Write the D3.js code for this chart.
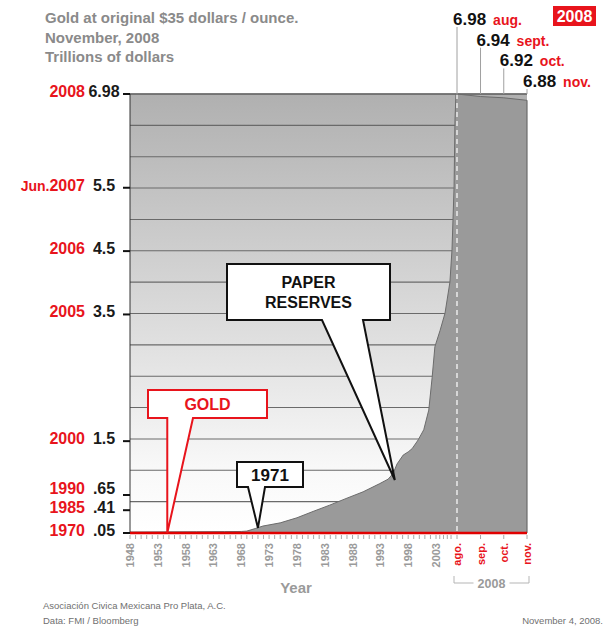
<!DOCTYPE html>
<html><head><meta charset="utf-8">
<script src="https://cdn.jsdelivr.net/npm/d3@7"></script>
<style>
body{margin:0;background:#fff}
svg{display:block;font-family:Arial,"Liberation Sans",sans-serif}
</style>
</head><body>
<svg id="c" width="605" height="629"></svg>
<script>
// ---------- data ----------
const years    = [1948, 1955, 1960, 1965, 1968, 1969, 1970.5, 1971.9, 1975, 1978, 1980.9, 1983.9, 1987, 1989.9, 1992.9, 1994.4, 1995.3, 1996, 1997.1, 1998, 1998.7, 1999.8, 2000.8, 2001.7, 2002.3, 2002.8, 2004.1, 2005.4, 2006.7, 2007.25, 2007.8, 2008.05, 2008.3];
const reserves = [0.066, 0.068, 0.07, 0.072, 0.074, 0.08, 0.12, 0.16, 0.21, 0.29, 0.39, 0.49, 0.60, 0.70, 0.83, 0.90, 0.99, 1.14, 1.28, 1.33, 1.38, 1.52, 1.68, 1.99, 2.50, 2.99, 3.25, 3.52, 4.01, 4.52, 5.50, 6.57, 6.98];
const monthDates  = [2008.583, 2008.667, 2008.75, 2008.833];
const monthValues = [6.98, 6.94, 6.92, 6.88];
const monthAxisLabels = ["ago.", "sep.", "oct.", "nov."];
const monthTopLabels  = ["aug.", "sept.", "oct.", "nov."];
const goldDates  = [1948, 2008.833];
const goldValues = [0.05, 0.05];
const yTickValues = [6.98, 5.5, 4.5, 3.5, 1.5, 0.65, 0.41, 0.05];
const yTickValueLabels = ["6.98", "5.5", "4.5", "3.5", "1.5", ".65", ".41", ".05"];
const yTickYearLabels  = ["2008", "Jun.2007", "2006", "2005", "2000", "1990", "1985", "1970"];
const yearTickLabels = [1948, 1953, 1958, 1963, 1968, 1973, 1978, 1983, 1988, 1993, 1998, 2003];
const titleLines = ["Gold at original $35 dollars / ounce.", "November, 2008", "Trillions of dollars"];
const callouts = [
  {text: ["GOLD"], year: 1954.7, value: 0.05, color: "#e8141c"},
  {text: ["1971"], year: 1971, value: 0.13, color: "#111"},
  {text: ["PAPER", "RESERVES"], year: 1995.6, value: 0.887, color: "#111"}
];

// ---------- scales ----------
const svg = d3.select("#c");
const L = 130, R = 527, T = 94, B = 533;
const x = d3.scaleLinear().domain([1948, 2003, 2008.583, 2008.833]).range([L, 436, 457, R]);
const y = d3.scaleLinear().domain([0.05, 6.98]).range([B, T]);

// background gradient
const defs = svg.append("defs");
const g = defs.append("linearGradient").attr("id", "bg").attr("x1", 0).attr("y1", 0).attr("x2", 0).attr("y2", 1);
g.append("stop").attr("offset", "0").attr("stop-color", "#b0b0b0");
g.append("stop").attr("offset", "0.45").attr("stop-color", "#d6d6d6");
g.append("stop").attr("offset", "0.85").attr("stop-color", "#f8f8f8");
g.append("stop").attr("offset", "1").attr("stop-color", "#ffffff");
svg.append("rect").attr("x", L).attr("y", T).attr("width", R - L).attr("height", B - T).attr("fill", "url(#bg)");

// gridlines (equal bands)
const nBands = 14;
svg.append("g").selectAll("line").data(d3.range(nBands + 1)).join("line")
  .attr("x1", L).attr("x2", R)
  .attr("y1", i => B + i * (T - B) / nBands).attr("y2", i => B + i * (T - B) / nBands)
  .attr("stroke", "#6a6a6a").attr("stroke-width", 1.1);

// area
const series = years.map((d, i) => ({t: d, v: reserves[i]}))
  .concat(monthDates.map((d, i) => ({t: d, v: monthValues[i]})));
const area = d3.area().x(d => x(d.t)).y0(B).y1(d => y(d.v));
svg.append("path").datum(series).attr("d", area).attr("fill", "#9a9a9a");
svg.append("path").datum(series).attr("d", d3.line().x(d => x(d.t)).y(d => y(d.v)))
  .attr("fill", "none").attr("stroke", "#6c6c6c").attr("stroke-width", 1);
svg.append("line").attr("x1", R).attr("x2", R).attr("y1", y(monthValues[3])).attr("y2", B)
  .attr("stroke", "#6c6c6c").attr("stroke-width", 1.2);

// dashed white line at Aug 2008
svg.append("line").attr("x1", x(monthDates[0])).attr("x2", x(monthDates[0])).attr("y1", T).attr("y2", B)
  .attr("stroke", "#fff").attr("stroke-width", 1.2).attr("stroke-dasharray", "5,4");

// top border & left axis
svg.append("line").attr("x1", L).attr("x2", R).attr("y1", T).attr("y2", T).attr("stroke", "#6a6a6a").attr("stroke-width", 1.5);
svg.append("line").attr("x1", L).attr("x2", L).attr("y1", T).attr("y2", B).attr("stroke", "#333").attr("stroke-width", 1);

// gold line
svg.append("path").datum(goldDates.map((d, i) => ({t: d, v: goldValues[i]})))
  .attr("d", d3.line().x(d => x(d.t)).y(d => y(d.v)))
  .attr("stroke", "#e00000").attr("stroke-width", 2.5).attr("fill", "none");

// x minor ticks
const minorYears = d3.range(1948, 2008).concat(monthDates);
svg.append("g").selectAll("line").data(minorYears).join("line")
  .attr("x1", d => x(d)).attr("x2", d => x(d)).attr("y1", B + 2).attr("y2", B + 6)
  .attr("stroke", "#a8a8a8").attr("stroke-width", 1);

// x labels
svg.append("g").selectAll("text").data(yearTickLabels).join("text")
  .attr("transform", d => `translate(${x(d) + 4},${B + 10}) rotate(-90)`)
  .attr("text-anchor", "end").attr("font-size", 11).attr("font-weight", "bold").attr("fill", "#9a9a9a")
  .text(d => d);
svg.append("g").selectAll("text").data(monthAxisLabels).join("text")
  .attr("transform", (d, i) => `translate(${x(monthDates[i]) + 4},${B + 10}) rotate(-90)`)
  .attr("text-anchor", "end").attr("font-size", 11).attr("font-weight", "bold").attr("fill", "#e8141c")
  .text(d => d);

// 2008 bracket
const bx0 = x(monthDates[0]) - 3, bx1 = x(monthDates[3]) + 2, by = 583, bmid = (bx0 + bx1) / 2;
svg.append("path").attr("d", `M${bx0},${by - 7}V${by}H${bmid - 18}M${bmid + 18},${by}H${bx1}V${by - 7}`)
  .attr("fill", "none").attr("stroke", "#b5b5b5").attr("stroke-width", 1);
svg.append("text").attr("x", bmid).attr("y", by + 4.5).attr("text-anchor", "middle")
  .attr("font-size", 12.5).attr("font-weight", "bold").attr("fill", "#9a9a9a").text("2008");

svg.append("text").attr("x", 296).attr("y", 593).attr("text-anchor", "middle")
  .attr("font-size", 15).attr("font-weight", "bold").attr("fill", "#9a9a9a").text("Year");

// y ticks and labels (labels pushed apart when crowded)
const yt = svg.append("g");
const labelY = yTickValues.map(v => y(v) + 3);
for (let i = labelY.length - 2; i >= 0; i--) {
  if (labelY[i + 1] - labelY[i] < 19) labelY[i] = labelY[i + 1] - 19;
}
yTickValues.forEach((v, i) => {
  yt.append("line").attr("x1", L - 7).attr("x2", L).attr("y1", y(v)).attr("y2", y(v))
    .attr("stroke", "#111").attr("stroke-width", 2);
  yt.append("text").attr("x", 104).attr("y", labelY[i]).attr("text-anchor", "middle")
    .attr("font-size", 16).attr("font-weight", "bold").attr("fill", "#1a1a1a").text(yTickValueLabels[i]);
  const lab = yTickYearLabels[i];
  const t = yt.append("text").attr("x", 85).attr("y", labelY[i]).attr("text-anchor", "end")
    .attr("font-weight", "bold").attr("fill", "#e8141c").attr("font-size", 16);
  if (lab.startsWith("Jun.")) {
    t.append("tspan").attr("font-size", 14).text("Jun.");
    t.append("tspan").text(lab.slice(4));
  } else t.text(lab);
});

// top-right monthly labels
monthDates.forEach((d, i) => {
  const base = 25 + i * 20.7;
  const mx = x(d);
  svg.append("line").attr("x1", mx).attr("x2", mx).attr("y1", base + 2).attr("y2", T)
    .attr("stroke", "#a0a0a0").attr("stroke-width", 1);
  const t = svg.append("text").attr("x", mx - 4).attr("y", base).attr("font-weight", "bold");
  t.append("tspan").attr("font-size", 17).attr("fill", "#111").text(monthValues[i].toFixed(2));
  t.append("tspan").attr("dx", 7).attr("font-size", 14).attr("fill", "#e8141c").text(monthTopLabels[i]);
});
svg.append("rect").attr("x", 553).attr("y", 6).attr("width", 43).attr("height", 20).attr("fill", "#e8141c");
svg.append("text").attr("x", 574.5).attr("y", 22).attr("text-anchor", "middle").attr("font-size", 16)
  .attr("font-weight", "bold").attr("fill", "#fff").text("2008");

// callouts
const boxes = [
  {x0: 148, y0: 390, x1: 267, y1: 418, a: 167, b: 193, vertLeft: true, fs: 16},
  {x0: 237, y0: 462, x1: 303, y1: 487, a: 248, b: 265, fs: 17},
  {x0: 227, y0: 264, x1: 390, y1: 320, a: 322, b: 363, fs: 16}
];
callouts.forEach((c, i) => {
  const bx = boxes[i];
  const tx = x(c.year), ty = y(c.value);
  const p = bx.vertLeft
    ? `M${bx.x0},${bx.y0}H${bx.x1}V${bx.y1}H${bx.b}L${tx},${ty}V${bx.y1}H${bx.x0}Z`
    : `M${bx.x0},${bx.y0}H${bx.x1}V${bx.y1}H${bx.b}L${tx},${ty}L${bx.a},${bx.y1}H${bx.x0}Z`;
  svg.append("path").attr("d", p).attr("fill", "#fff").attr("stroke", c.color).attr("stroke-width", 2)
    .attr("stroke-linejoin", "miter");
  const cx = (bx.x0 + bx.x1) / 2;
  const n = c.text.length;
  const cy = (bx.y0 + bx.y1) / 2;
  c.text.forEach((s, j) => {
    svg.append("text").attr("x", cx).attr("y", cy + (j - (n - 1) / 2) * 20 + bx.fs * 0.36)
      .attr("text-anchor", "middle").attr("font-size", bx.fs).attr("font-weight", "bold")
      .attr("fill", c.color).text(s);
  });
});

// title
titleLines.forEach((s, i) => {
  svg.append("text").attr("x", 45).attr("y", 23 + i * 19.5).attr("font-size", 15)
    .attr("font-weight", "bold").attr("fill", "#8a8a8a").text(s);
});

// footer
svg.append("text").attr("x", 43).attr("y", 609).attr("font-size", 9.5).attr("fill", "#707070")
  .text("Asociación Civica Mexicana Pro Plata, A.C.");
svg.append("text").attr("x", 43).attr("y", 624).attr("font-size", 9.5).attr("fill", "#707070")
  .text("Data:  FMI / Bloomberg");
svg.append("text").attr("x", 603).attr("y", 624).attr("text-anchor", "end").attr("font-size", 9.5).attr("fill", "#707070")
  .text("November 4, 2008.");
</script>
</body></html>
